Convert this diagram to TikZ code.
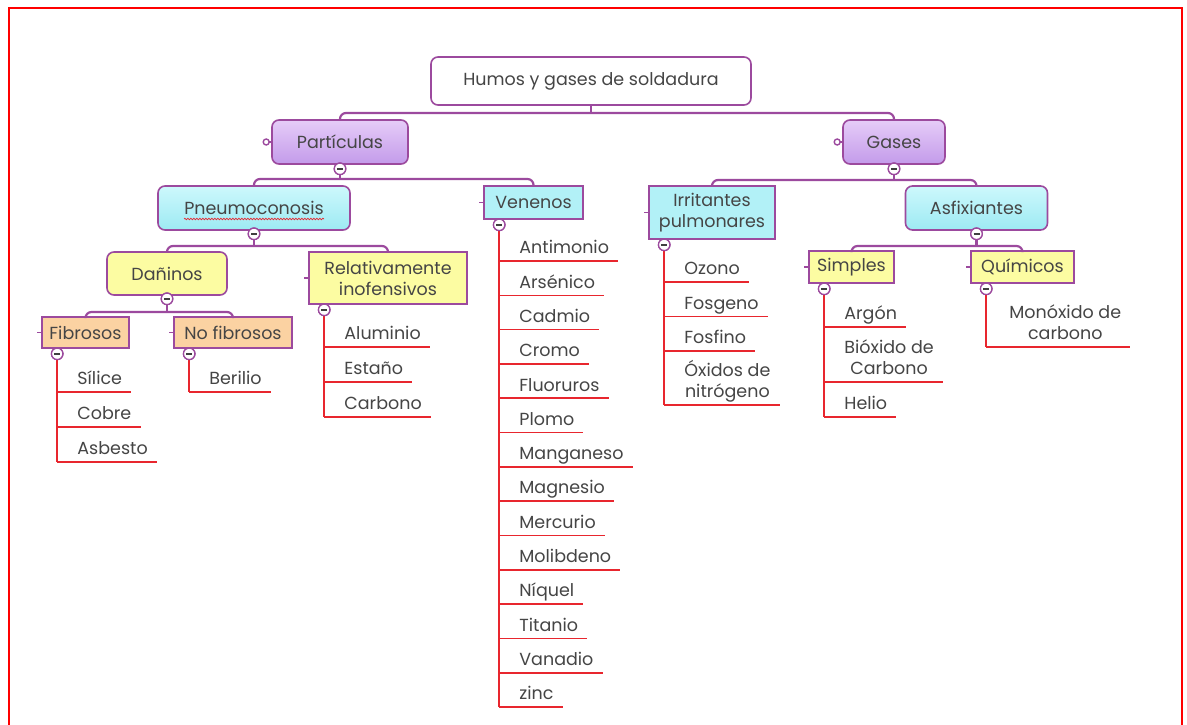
\documentclass[tikz,border=0pt]{standalone}
\usepackage{fontspec}
\setmainfont{Poppins}
\usetikzlibrary{calc,decorations.pathmorphing}
\definecolor{mmpurple}{HTML}{9C4A9E}
\definecolor{txt}{HTML}{454545}
\definecolor{lavtop}{HTML}{E6CCF8}
\definecolor{lavbot}{HTML}{C39BEA}
\definecolor{cyantop}{HTML}{CDF8FC}
\definecolor{cyanbot}{HTML}{9DEAF3}
\definecolor{cyanflat}{HTML}{B2F1F7}
\definecolor{yel}{HTML}{FCFCA2}
\definecolor{ora}{HTML}{FBD2A2}
\definecolor{leafred}{HTML}{E8262E}
\definecolor{frame}{HTML}{FF0000}
\begin{document}
\begin{tikzpicture}[x=1pt,y=-1pt,
  font=\fontsize{17.5}{21}\selectfont,
  box/.style={draw=mmpurple, line width=1.6pt, text=txt, inner sep=2pt, align=center},
  rbox/.style={box, rounded corners=7pt},
  lav/.style={top color=lavtop, bottom color=lavbot},
  cyr/.style={top color=cyantop, bottom color=cyanbot},
  cyf/.style={fill=cyanflat},
  yel/.style={fill=yel},
  ora/.style={fill=ora},
  minus/.style={circle, draw=mmpurple, fill=white, line width=1.3pt,
    minimum size=11.5pt, inner sep=0pt,
    path picture={\draw[line width=1.6pt, black!75]
      ([xshift=-3pt]path picture bounding box.center) --
      ([xshift=3pt]path picture bounding box.center);}},
  conn/.style={draw=mmpurple, line width=2.2pt, rounded corners=6pt},
  stub/.style={draw=mmpurple, line width=1.4pt},
  leaf/.style={anchor=south west, inner xsep=9pt, inner ysep=3pt,
    text depth=4pt, text=txt, align=left},
  leafc/.style={leaf, align=center},
  leafline/.style={draw=leafred, line width=1.6pt}]

\useasboundingbox (0,0) rectangle (1187,725);
\fill[white] (0,0) rectangle (1187,725);

% outer frame, open at the bottom
\draw[frame, line width=2.5pt] (9,725) -- (9,8) -- (1182,8) -- (1182,725);

% ---------------- boxes ----------------
\node[rbox, fill=white, minimum width=320pt, minimum height=48pt] (root) at (591,81) {Humos y gases de soldadura};

\node[rbox, lav, minimum width=136pt, minimum height=44pt] (pa) at (340,142) {Partículas};
\node[rbox, lav, minimum width=102pt, minimum height=44pt] (ga) at (894,142) {Gases};

\node[rbox, cyr, minimum width=192pt, minimum height=44pt] (pn) at (254,208) {Pneumoconosis};
\node[box, cyf, minimum width=99pt, minimum height=33pt] (ve) at (533.5,202.5) {Venenos};
\node[box, cyf, minimum width=126pt, minimum height=53pt] (ir) at (712,212.5) {Irritantes\\pulmonares};
\node[rbox, cyr, minimum width=142pt, minimum height=44pt] (as) at (976.5,208) {Asfixiantes};

\node[rbox, yel, minimum width=120pt, minimum height=43pt] (da) at (167,273.5) {Dañinos};
\node[box, yel, minimum width=158pt, minimum height=52pt] (re) at (388,278) {Relativamente\\inofensivos};
\node[box, yel, minimum width=85pt, minimum height=32pt] (si) at (851.5,267) {Simples};
\node[box, yel, minimum width=103pt, minimum height=32pt] (qu) at (1022.5,267) {Químicos};

\node[box, ora, minimum width=87pt, minimum height=31pt] (fi) at (85.5,332.5) {Fibrosos};
\node[box, ora, minimum width=118pt, minimum height=31pt] (nf) at (233,332.5) {No fibrosos};

% spell-check squiggle under Pneumoconosis
\draw[leafred, line width=0.7pt, decorate, decoration={snake, amplitude=0.8pt, segment length=3pt}]
  ($(pn.center)+(-70,11)$) -- ($(pn.center)+(70,11)$);

% small hooks on the left of some boxes
\draw[stub] (pa.west) -- ++(-2,0);
\draw[stub, fill=white] ($(pa.west)+(-5,0)$) circle (3pt);
\draw[stub] (ga.west) -- ++(-2,0);
\draw[stub, fill=white] ($(ga.west)+(-5,0)$) circle (3pt);
\foreach \b in {ve,ir,re,si,qu,fi,nf}
  \draw[stub] (\b.west) -- ++(-4,0);

% ---------------- connectors between levels ----------------
\coordinate (h0) at (0,113);
\coordinate (h1) at (0,179);
\coordinate (h2) at (0,180);
\coordinate (h3) at (0,246);
\coordinate (h4) at (0,246);
\coordinate (h5) at (0,312);

\node[minus] (mpa) at ([yshift=-4pt]pa.south) {};
\node[minus] (mga) at ([yshift=-4pt]ga.south) {};
\node[minus] (mpn) at ([yshift=-3pt]pn.south) {};
\node[minus] (mas) at ([yshift=-3pt]as.south) {};
\node[minus] (mda) at ([yshift=-3pt]da.south) {};

\draw[conn] (root.south) -- (root.south |- h0);
\draw[conn] (pa.north) -- (pa.north |- h0) -- (ga.north |- h0) -- (ga.north);

\draw[conn] (mpa.south) -- (mpa.south |- h1);
\draw[conn] (pn.north) -- (pn.north |- h1) -- (ve.north |- h1) -- (ve.north);

\draw[conn] (mga.south) -- (mga.south |- h2);
\draw[conn] (ir.north) -- (ir.north |- h2) -- (as.north |- h2) -- (as.north);

\draw[conn] (mpn.south) -- (mpn.south |- h3);
\draw[conn] (da.north) -- (da.north |- h3) -- (re.north |- h3) -- (re.north);

\draw[conn] (mas.south) -- (mas.south |- h4);
\draw[conn] (si.north) -- (si.north |- h4) -- (qu.north |- h4) -- (qu.north);

\draw[conn] (mda.south) -- (mda.south |- h5);
\draw[conn] (fi.north) -- (fi.north |- h5) -- (nf.north |- h5) -- (nf.north);

% redraw the collapse buttons above the connectors
\foreach \m/\b/\dy in {mpa/pa/4,mga/ga/4,mpn/pn/3,mas/as/3,mda/da/3}
  \node[minus] at ([yshift=-\dy pt]\b.south) {};

% ---------------- leaf lists ----------------
% collapse buttons of the list boxes
\foreach \b in {ve,ir,re,si,qu,fi,nf}
  \node[minus] (m\b) at ([xshift=16pt,yshift=-5pt]\b.south west) {};

% Fibrosos
\foreach \t [count=\i] in {Sílice,Cobre,Asbesto} {
  \pgfmathsetmacro\yy{392+35*(\i-1)}
  \node[leaf] (fi\i) at ($(mfi.center |- 0,\yy)+(11,0)$) {\t};
  \draw[leafline] (mfi.center |- fi\i.south) -- (fi\i.south east);
}
\draw[leafline] (mfi.south) -- (mfi.south |- fi3.south);

% No fibrosos
\node[leaf] (nf1) at ($(mnf.center |- 0,392)+(11,0)$) {Berilio};
\draw[leafline] (mnf.center |- nf1.south) -- (nf1.south east);
\draw[leafline] (mnf.south) -- (mnf.south |- nf1.south);

% Relativamente inofensivos
\foreach \t [count=\i] in {Aluminio,Estaño,Carbono} {
  \pgfmathsetmacro\yy{347+35*(\i-1)}
  \node[leaf] (re\i) at ($(mre.center |- 0,\yy)+(11,0)$) {\t};
  \draw[leafline] (mre.center |- re\i.south) -- (re\i.south east);
}
\draw[leafline] (mre.south) -- (mre.south |- re3.south);

% Venenos
\foreach \t [count=\i] in {Antimonio,Arsénico,Cadmio,Cromo,Fluoruros,Plomo,Manganeso,
    Magnesio,Mercurio,Molibdeno,Níquel,Titanio,Vanadio,zinc} {
  \pgfmathsetmacro\yy{261+34.31*(\i-1)}
  \node[leaf] (ve\i) at ($(mve.center |- 0,\yy)+(11,0)$) {\t};
  \draw[leafline] (mve.center |- ve\i.south) -- (ve\i.south east);
}
\draw[leafline] (mve.south) -- (mve.south |- ve14.south);

% Irritantes pulmonares
\foreach \t [count=\i] in {Ozono,Fosgeno,Fosfino} {
  \pgfmathsetmacro\yy{282+34.5*(\i-1)}
  \node[leaf] (ir\i) at ($(mir.center |- 0,\yy)+(11,0)$) {\t};
  \draw[leafline] (mir.center |- ir\i.south) -- (ir\i.south east);
}
\node[leafc] (ir4) at ($(mir.center |- 0,405)+(11,0)$) {Óxidos de\\nitrógeno};
\draw[leafline] (mir.center |- ir4.south) -- (ir4.south east);
\draw[leafline] (mir.south) -- (mir.south |- ir4.south);

% Simples
\node[leaf] (si1) at ($(msi.center |- 0,327)+(11,0)$) {Argón};
\node[leafc] (si2) at ($(msi.center |- 0,382)+(11,0)$) {Bióxido de\\Carbono};
\node[leaf] (si3) at ($(msi.center |- 0,417)+(11,0)$) {Helio};
\foreach \i in {1,2,3}
  \draw[leafline] (msi.center |- si\i.south) -- (si\i.south east);
\draw[leafline] (msi.south) -- (msi.south |- si3.south);

% Químicos
\node[leafc] (qu1) at ($(mqu.center |- 0,347)+(14,0)$) {Monóxido de\\carbono};
\draw[leafline] (mqu.center |- qu1.south) -- (qu1.south east);
\draw[leafline] (mqu.south) -- (mqu.south |- qu1.south);

% keep the list buttons on top of the red trunks
\foreach \b in {ve,ir,re,si,qu,fi,nf}
  \node[minus] at ([xshift=16pt,yshift=-5pt]\b.south west) {};
\end{tikzpicture}
\end{document}
